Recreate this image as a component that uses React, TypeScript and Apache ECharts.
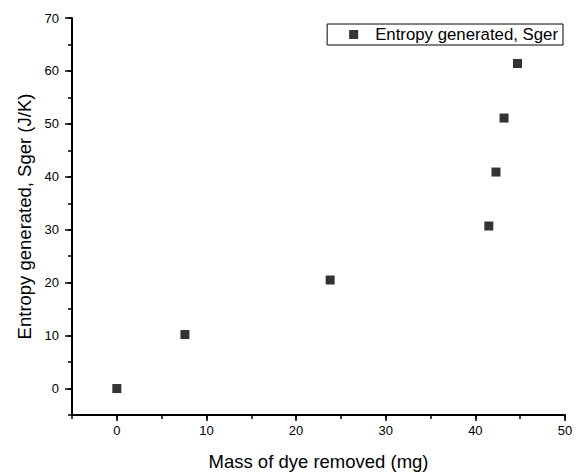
import React, { useEffect, useRef } from "react";
import * as echarts from "echarts";

// Mass of dye removed (mg) and the entropy generated (J/K) at each point
const massRemoved = [0, 7.6, 23.8, 41.5, 42.3, 43.2, 44.7];
const entropyGenerated = [0, 10.2, 20.5, 30.7, 40.9, 51.1, 61.4];
const seriesName = "Entropy generated, Sger";

// Major (labelled) tick positions
const xMajorTicks = [0, 10, 20, 30, 40, 50];
const yMajorTicks = [0, 10, 20, 30, 40, 50, 60, 70];

const FONT = "'Liberation Sans', Arial, sans-serif";

// Ticks every 5 units, labels only on multiples of 10
const labelEveryTen = (v: number) => (Math.round(v) % 10 === 0 ? String(Math.round(v)) : "");

export default function App() {
  const ref = useRef<HTMLDivElement>(null);

  useEffect(() => {
    if (!ref.current) return;
    const chart = echarts.init(ref.current, undefined, { renderer: "svg" });
    const points = massRemoved.map((m, i) => [m, entropyGenerated[i]]);

    chart.setOption({
      animation: false,
      grid: { left: 72, right: 18, top: 18, bottom: 60 },
      legend: {
        data: [{ name: seriesName, icon: "rect" }],
        right: 20,
        top: 24,
        borderColor: "#000",
        borderWidth: 1,
        borderRadius: 0,
        padding: [2, 5, 2, 22],
        itemWidth: 9,
        itemHeight: 9,
        itemGap: 0,
        textStyle: { fontFamily: FONT, fontSize: 16.8, color: "#000", padding: [0, 0, 0, 12] },
      },
      xAxis: [
        {
          type: "value",
          min: -5,
          max: 50,
          interval: 5,
          name: "Mass of dye removed (mg)",
          nameLocation: "middle",
          nameGap: 37,
          nameTextStyle: { fontFamily: FONT, fontSize: 18.5, color: "#000" },
          axisLine: { show: true, onZero: false, lineStyle: { color: "#000", width: 2 } },
          axisTick: { show: true, length: 4, lineStyle: { color: "#000", width: 1.5 } },
          splitLine: { show: false },
          axisLabel: { fontFamily: FONT, fontSize: 13, color: "#000", margin: 9, formatter: labelEveryTen },
        },
        {
          // longer ticks at the labelled values
          type: "value",
          position: "bottom",
          min: -5,
          max: 50,
          axisLine: { show: false, onZero: false },
          axisTick: { show: true, length: 6, customValues: xMajorTicks, lineStyle: { color: "#000", width: 1.5 } },
          axisLabel: { show: false },
          splitLine: { show: false },
        },
      ],
      yAxis: [
        {
          type: "value",
          min: -5,
          max: 70,
          interval: 5,
          name: "Entropy generated, Sger (J/K)",
          nameLocation: "middle",
          nameGap: 38,
          nameTextStyle: { fontFamily: FONT, fontSize: 18.5, color: "#000" },
          axisLine: { show: true, onZero: false, lineStyle: { color: "#000", width: 2 } },
          axisTick: { show: true, length: 4, lineStyle: { color: "#000", width: 1.5 } },
          splitLine: { show: false },
          axisLabel: { fontFamily: FONT, fontSize: 13, color: "#000", margin: 13, formatter: labelEveryTen },
        },
        {
          type: "value",
          position: "left",
          min: -5,
          max: 70,
          axisLine: { show: false, onZero: false },
          axisTick: { show: true, length: 7, customValues: yMajorTicks, lineStyle: { color: "#000", width: 1.5 } },
          axisLabel: { show: false },
          splitLine: { show: false },
        },
      ],
      series: [
        {
          name: seriesName,
          type: "scatter",
          xAxisIndex: 0,
          yAxisIndex: 0,
          symbol: "rect",
          symbolSize: 9,
          itemStyle: { color: "#000" },
          data: points,
        },
      ],
    });

    return () => chart.dispose();
  }, []);

  return <div ref={ref} style={{ width: 583, height: 476, position: "absolute", left: 0, top: 0 }} />;
}
